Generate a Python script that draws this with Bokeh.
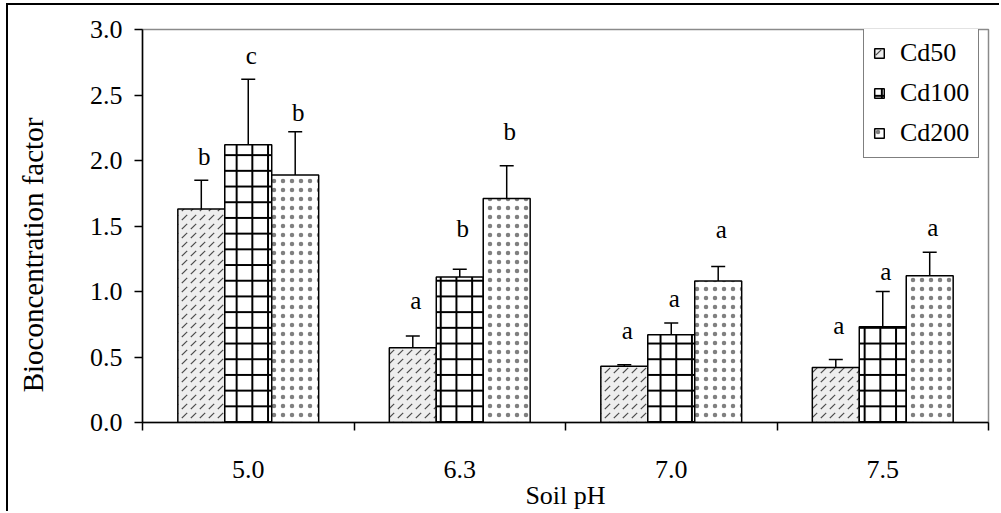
from bokeh.plotting import figure
from bokeh.models import (Range1d, FixedTicker, Whisker, ColumnDataSource,
                          TeeHead, Legend, LegendItem, NumeralTickFormatter)
from bokeh.core.properties import value
from bokeh.embed import file_html
from bokeh.resources import INLINE

# ---- data ----
categories = ["5.0", "6.3", "7.0", "7.5"]
series = ["Cd50", "Cd100", "Cd200"]
cd50 = [1.63, 0.57, 0.43, 0.42]
cd50_err = [0.22, 0.09, 0.01, 0.06]
cd100 = [2.12, 1.11, 0.67, 0.73]
cd100_err = [0.50, 0.06, 0.09, 0.27]
cd200 = [1.89, 1.71, 1.08, 1.12]
cd200_err = [0.33, 0.25, 0.11, 0.18]
letters50 = ["b", "a", "a", "a"]
letters100 = ["c", "b", "a", "a"]
letters200 = ["b", "b", "a", "a"]
letter_y50 = [2.03, 0.93, 0.70, 0.74]
letter_y100 = [2.80, 1.48, 0.95, 1.15]
letter_y200 = [2.37, 2.22, 1.47, 1.49]
y_ticks = [0.0, 0.5, 1.0, 1.5, 2.0, 2.5, 3.0]
y_title = "Bioconcentration factor"
x_title = "Soil pH"

FONT = "Liberation Serif"
W, H = 993, 508
bar_w = 0.222
n = len(categories)
centers = [i + 0.5 for i in range(n)]
bounds = [i for i in range(n + 1)]

p = figure(width=W, height=H, output_backend="svg", toolbar_location=None,
           x_range=Range1d(0, n), y_range=Range1d(0, 3.0),
           min_border_left=134, min_border_right=13, min_border_top=24, min_border_bottom=91)
p.margin = (3, 0, 0, 6)
p.styles = {"border-left": "2px solid black", "border-top": "2px solid black"}
p.xgrid.visible = False
p.ygrid.visible = False
p.outline_line_color = "#8a8a8a"
p.outline_line_width = 1.5
p.background_fill_color = "white"
p.border_fill_color = "white"

styles = [
    dict(fill_color="#eeeeee", hatch_pattern="right_diagonal_dash", hatch_color="#4a4a4a",
         hatch_scale=9, hatch_weight=1.2),
    dict(fill_color="white", hatch_pattern="cross", hatch_color="black",
         hatch_scale=15.7, hatch_weight=2),
    dict(fill_color="white", hatch_pattern="dot", hatch_color="#808080",
         hatch_scale=9, hatch_weight=1),
]
vals = [cd50, cd100, cd200]
errs = [cd50_err, cd100_err, cd200_err]
lets = [letters50, letters100, letters200]
lys = [letter_y50, letter_y100, letter_y200]
offsets = [-bar_w, 0.0, bar_w]

renderers = []
for k in range(3):
    xs = [c + offsets[k] for c in centers]
    src = ColumnDataSource(dict(
        x=xs, top=vals[k],
        upper=[v + e for v, e in zip(vals[k], errs[k])],
        lower=[v - e for v, e in zip(vals[k], errs[k])],
        letter=lets[k], ly=lys[k]))
    r = p.vbar(x="x", top="top", bottom=0, width=bar_w, source=src,
               line_color="black", line_width=1.5, **styles[k])
    renderers.append(r)
    wh = Whisker(source=src, base="x", upper="upper", lower="lower",
                 line_color="black", line_width=1.5,
                 upper_head=TeeHead(size=14, line_width=1.5, line_color="black"),
                 lower_head=TeeHead(size=14, line_width=1.5, line_color="black"))
    p.add_layout(wh)
    p.text(x="x", y="ly", text="letter", source=src, text_font=value(FONT),
           text_font_size="25px", text_align="center", text_baseline="middle",
           text_color="black", x_offset=3)

# axes
xa = p.xaxis[0]
xa.ticker = FixedTicker(ticks=centers, minor_ticks=bounds)
xa.major_label_overrides = {c: lab for c, lab in zip(centers, categories)}
xa.major_tick_out = 0
xa.major_tick_in = 0
xa.minor_tick_out = 8
xa.minor_tick_in = 0
xa.minor_tick_line_color = "black"
xa.minor_tick_line_width = 1.5
xa.axis_line_color = "black"
xa.axis_line_width = 1.5
xa.major_label_standoff = 30
xa.major_label_text_font = FONT
xa.major_label_text_font_size = "26px"
xa.major_label_text_color = "black"
xa.axis_label = x_title
xa.axis_label_standoff = 0
xa.axis_label_text_font = FONT
xa.axis_label_text_font_size = "26px"
xa.axis_label_text_font_style = "normal"
xa.axis_label_text_color = "black"

ya = p.yaxis[0]
ya.ticker = FixedTicker(ticks=y_ticks, minor_ticks=[])
ya.formatter = NumeralTickFormatter(format="0.0")
ya.major_tick_out = 8
ya.major_tick_in = 0
ya.major_tick_line_color = "black"
ya.major_tick_line_width = 1.5
ya.axis_line_color = "black"
ya.axis_line_width = 1.5
ya.major_label_standoff = 12
ya.major_label_text_font = FONT
ya.major_label_text_font_size = "26px"
ya.major_label_text_color = "black"
ya.axis_label = y_title + "\u00a0" * 8
ya.axis_label_standoff = 38
ya.axis_label_text_font = FONT
ya.axis_label_text_font_size = "29px"
ya.axis_label_text_font_style = "normal"
ya.axis_label_text_color = "black"

# legend
legend = Legend(items=[LegendItem(label=s, renderers=[r]) for s, r in zip(series, renderers)],
                location=(721, 264))
legend.label_text_font = FONT
legend.label_text_font_size = "26px"
legend.label_text_color = "black"
legend.glyph_width = 12
legend.glyph_height = 12
legend.label_standoff = 15
legend.label_height = 30
legend.spacing = 10
legend.padding = 9
legend.margin = 0
legend.border_line_color = "black"
legend.border_line_width = 1
legend.background_fill_color = "white"
legend.background_fill_alpha = 1.0
p.add_layout(legend, "center")

open("out.html", "w").write(file_html(p, INLINE))
